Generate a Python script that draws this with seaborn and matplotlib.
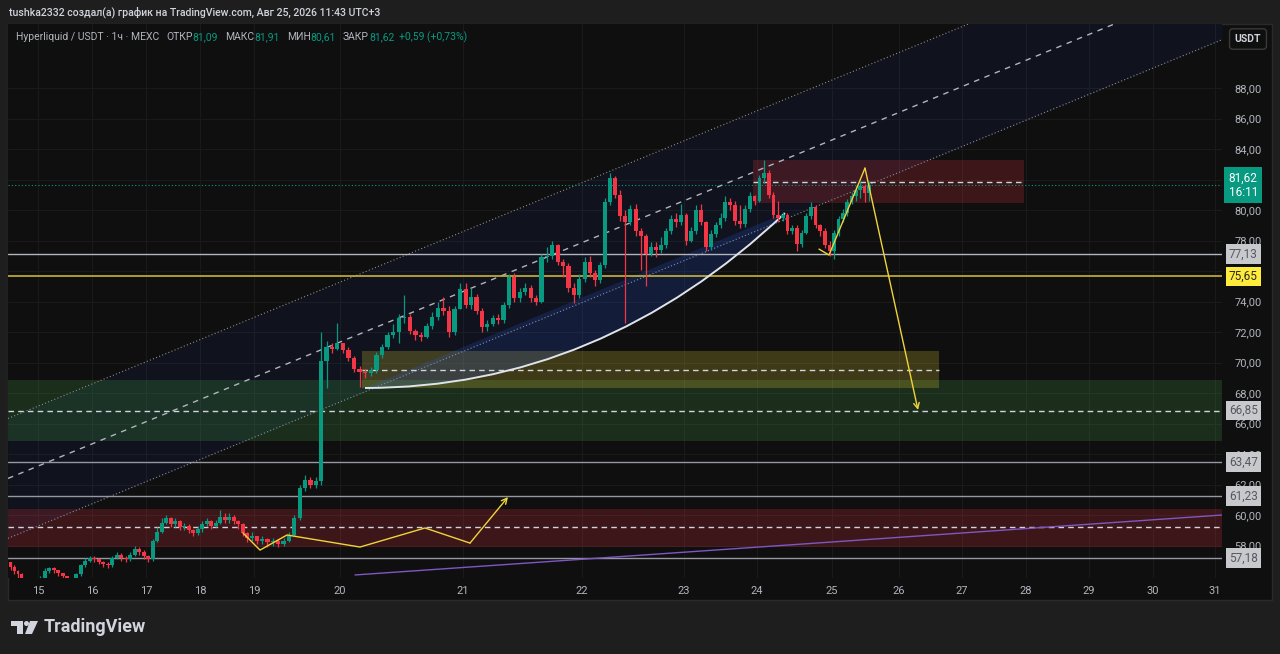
import numpy as np
import matplotlib
matplotlib.use('Agg')
import matplotlib.pyplot as plt
import matplotlib.patches as mpatches
import matplotlib.transforms as mtransforms
from matplotlib.path import Path
import seaborn as sns

# ---- axis data -------------------------------------------------------------
days = ['15', '16', '17', '18', '19', '20', '21', '22', '23', '24', '25', '26', '27', '28', '29', '30', '31']
day_pos = [0, 10.8, 21.6, 32.4, 43.2, 60.4, 85.0, 108.8, 129.2, 143.8, 158.8, 172.2, 184.8, 197.6, 210.2, 223.0, 235.4]
price_ticks = [58, 60, 62, 64, 66, 68, 70, 72, 74, 76, 78, 80, 82, 84, 86, 88]

# ---- candles, one list per day (open = previous close) ---------------------
first_open = 56.9
close_14 = [56.6, 56.3, 56.1, 55.9, 55.6, 55.4, 55.5, 55.7]
high_14 = [56.9, 56.7, 56.4, 56.2, 55.9, 55.7, 55.7, 55.9]
low_14 = [56.4, 56.1, 55.9, 55.6, 55.3, 55.2, 55.3, 55.4]

close_15 = [55.8, 56.3, 56.5, 56.4, 56.2, 56.0, 55.6, 55.5, 56.1, 56.7, 57.0, 57.2]
high_15 = [56.0, 56.5, 56.6, 56.6, 56.4, 56.2, 55.9, 55.7, 56.2, 56.8, 57.2, 57.3]
low_15 = [55.5, 55.8, 56.2, 56.2, 56.0, 55.8, 55.4, 55.3, 55.4, 56.0, 56.6, 56.9]

close_16 = [57.1, 56.9, 56.8, 56.7, 57.2, 57.4, 57.2, 57.1, 57.4, 57.8, 57.6, 57.3]
high_16 = [57.3, 57.2, 57.0, 56.9, 57.3, 57.6, 57.5, 57.3, 57.6, 58.0, 57.9, 57.7]
low_16 = [56.9, 56.8, 56.6, 56.5, 56.6, 57.1, 57.0, 56.9, 57.0, 57.3, 57.4, 57.1]

close_17 = [57.1, 58.3, 58.9, 59.5, 59.8, 59.4, 59.6, 59.2, 59.3, 59.0, 58.8, 59.1]
high_17 = [57.4, 58.4, 59.2, 59.8, 60.0, 59.9, 59.8, 59.7, 59.5, 59.4, 59.1, 59.3]
low_17 = [56.9, 57.0, 58.2, 58.8, 59.4, 59.2, 59.2, 59.0, 59.0, 58.8, 58.6, 58.7]

close_18 = [59.4, 59.6, 59.3, 59.5, 59.9, 59.7, 59.9, 59.6, 59.4, 58.8, 58.5, 58.6]
high_18 = [59.6, 59.8, 59.7, 59.7, 60.3, 60.1, 60.1, 60.0, 59.7, 59.5, 58.9, 58.9]
low_18 = [58.9, 59.3, 59.1, 59.2, 59.4, 59.5, 59.5, 59.4, 59.1, 58.6, 58.2, 58.3]

close_19 = [58.3, 58.4, 58.2, 58.3, 58.1, 58.3, 58.7, 59.8, 61.8, 62.3, 62.0, 62.2, 70.1, 71.0, 70.9, 71.3]
high_19 = [58.6, 58.6, 58.5, 58.5, 58.4, 58.5, 58.9, 60.0, 62.0, 62.6, 62.5, 62.5, 72.0, 71.4, 71.3, 72.6]
low_19 = [58.1, 58.1, 57.9, 58.0, 57.9, 58.0, 58.2, 58.6, 59.7, 61.6, 61.8, 61.8, 62.0, 68.3, 70.6, 70.8]

close_20 = [70.8, 70.3, 69.6, 69.4, 69.3, 69.5, 70.5, 71.0, 71.8, 72.0, 72.9, 73.0, 72.1, 71.8, 71.7, 72.4,
            73.0, 73.6, 73.4, 72.0, 73.5, 74.8]
high_20 = [71.3, 71.0, 70.4, 69.8, 69.6, 69.7, 70.7, 71.2, 72.0, 72.5, 73.2, 74.4, 73.2, 72.2, 72.0, 72.6,
           73.3, 74.0, 74.3, 73.7, 73.7, 75.2]
low_20 = [70.6, 70.1, 69.4, 68.4, 69.0, 69.1, 69.3, 70.3, 70.9, 71.6, 71.3, 72.6, 71.9, 71.5, 71.4, 71.6,
          72.2, 72.8, 73.1, 71.7, 71.8, 73.5]

close_21 = [73.8, 74.3, 73.4, 72.3, 72.5, 72.9, 72.8, 73.8, 75.6, 74.2, 74.6, 74.9, 74.2, 74.0, 76.9, 77.0,
            77.7, 76.6, 76.3, 74.9, 74.4, 75.5]
high_21 = [75.2, 74.9, 74.5, 73.6, 72.8, 73.1, 73.2, 74.0, 75.8, 75.9, 74.9, 75.2, 75.1, 74.4, 77.1, 77.6,
           78.0, 77.8, 76.8, 76.5, 75.2, 75.8]
low_21 = [73.6, 73.5, 73.2, 72.0, 72.1, 72.4, 72.5, 72.6, 73.6, 74.0, 74.0, 74.4, 74.0, 73.8, 73.9, 76.6,
          76.8, 76.4, 75.6, 74.6, 73.9, 74.2]

close_22 = [76.6, 75.9, 75.4, 76.4, 80.5, 82.1, 81.0, 79.6, 79.2, 80.1, 78.6, 78.3, 77.1, 77.6, 77.4, 77.7,
            78.6, 79.4, 79.2, 79.7]
high_22 = [76.9, 77.0, 76.1, 76.6, 80.8, 82.4, 82.2, 81.3, 80.0, 80.3, 80.4, 78.8, 78.4, 77.9, 77.9, 78.2,
           78.8, 79.7, 79.8, 80.4]
low_22 = [75.3, 75.6, 75.0, 75.2, 76.2, 80.3, 80.8, 79.3, 72.6, 79.0, 78.3, 76.1, 75.0, 77.0, 76.9, 77.2,
          77.5, 78.4, 78.9, 79.0]

close_23 = [78.0, 78.6, 80.0, 79.2, 77.6, 78.4, 79.0, 79.5, 80.5, 80.3, 79.3, 79.1, 80.1, 80.9, 80.6]
high_23 = [79.8, 78.9, 80.3, 80.4, 79.3, 78.7, 79.2, 79.8, 80.9, 80.8, 80.6, 80.3, 80.3, 81.2, 81.0]
low_23 = [77.7, 77.9, 78.4, 79.0, 77.3, 77.4, 78.2, 78.8, 79.3, 80.0, 79.0, 78.8, 78.9, 79.9, 80.3]

close_24 = [82.1, 82.4, 81.0, 79.7, 79.5, 79.7, 78.6, 78.8, 77.8, 78.5, 79.6, 80.2, 79.0, 78.6, 77.7, 77.3]
high_24 = [82.3, 83.3, 82.6, 81.2, 80.6, 79.9, 79.8, 79.0, 79.0, 78.7, 79.8, 80.5, 80.3, 79.1, 78.8, 78.0]
low_24 = [80.5, 81.8, 80.8, 79.5, 79.2, 79.3, 78.4, 78.4, 77.3, 77.6, 78.4, 79.4, 78.8, 78.3, 77.5, 77.0]

close_25 = [78.5, 79.4, 79.8, 80.5, 80.9, 81.3, 81.6, 81.09, 81.62]
high_25 = [78.7, 79.6, 80.1, 80.7, 81.2, 81.6, 81.9, 81.7, 81.91]
low_25 = [76.8, 78.3, 79.2, 79.6, 80.4, 80.6, 80.8, 80.5, 80.61]

# ---- drawings ---------------------------------------------------------------
channel_x = [-6, 236.8]
channel_mid = [62.4, 95.1]
channel_half = 3.93

green_zone = [64.85, 66.85, 68.88]      # bottom, mid, top
red_zone_low = [57.9, 59.21, 60.39]
red_zone_high = [80.46, 81.84, 83.28]
red_zone_high_x = [143.0, 197.2]
yellow_zone = [68.33, 69.54, 70.75]
yellow_zone_x = [64.8, 180.2]

levels = [77.13, 75.65, 66.85, 63.47, 61.23, 57.18]
level_text = ['77,13', '75,65', '66,85', '63,47', '61,23', '57,18']

arc_x = [65.4, 112.4, 149.4]
arc_y = [68.33, 68.33, 79.80]

path_low_x = [41.0, 44.4, 49.8, 64.4, 77.4, 86.4, 94.0]
path_low_y = [58.82, 57.70, 58.69, 57.90, 59.15, 58.16, 61.18]
path_high_x = [156.2, 158.2, 165.4, 176.0]
path_high_y = [77.44, 77.05, 82.75, 66.89]

purple_x = [63.4, 236.8]
purple_y = [56.07, 60.0]

last_price = 81.62

GREEN = '#089981'
RED = '#f23645'
W, H = 1280, 654

sns.set_theme(style='dark', rc={'axes.facecolor': '#0f0f0f', 'figure.facecolor': '#1e1e1e'})
plt.rcParams['font.family'] = ['Roboto', 'DejaVu Sans']

fig = plt.figure(figsize=(W / 100, H / 100), dpi=100)
fig.patches.append(mpatches.Rectangle((8 / W, 1 - 600 / H), 1264 / W, 576 / H, transform=fig.transFigure,
                                      facecolor='#0f0f0f', edgecolor='#2a2a2a', lw=1, zorder=-10))
ax = fig.add_axes([8 / W, 1 - 578 / H, 1214 / W, 554 / H])
ax.set_zorder(1)
ax.set_facecolor('#0f0f0f')
ax.set_xlim(-6, 236.8)
ax.set_ylim(55.87, 92.2)
for s in ax.spines.values():
    s.set_visible(False)

ax.set_xticks(day_pos)
ax.set_xticklabels(days)
ax.set_yticks(price_ticks)
ax.set_yticklabels([f'{p:.2f}'.replace('.', ',') for p in price_ticks])
ax.yaxis.tick_right()
ax.tick_params(axis='x', colors='#b2b5be', labelsize=8, length=0, pad=6)
ax.tick_params(axis='y', colors='#b2b5be', labelsize=8, length=0, pad=9)
ax.grid(True, color='#1a1a1a', lw=0.8)

# channel
cx = np.array(channel_x)
cm = np.array(channel_mid)
ax.fill_between(cx, cm - channel_half, cm + channel_half, color='#2962ff', alpha=0.06, lw=0, zorder=1)
ax.plot(cx, cm, color='#b2b5be', lw=1, ls=(0, (4, 4)), zorder=3)
ax.plot(cx, cm + channel_half, color='#8a8d96', lw=0.8, ls=(0, (1, 2)), zorder=3)
ax.plot(cx, cm - channel_half, color='#8a8d96', lw=0.8, ls=(0, (1, 2)), zorder=3)

# zones
def zone(x0, x1, lo, mid, hi, color):
    ax.add_patch(mpatches.Rectangle((x0, lo), x1 - x0, hi - lo, facecolor=color, alpha=0.2, lw=0, zorder=1))
    ax.plot([x0, x1], [mid, mid], color='#d1d4dc', lw=1, ls=(0, (4, 3)), zorder=3)

zone(-6, 236.8, green_zone[0], green_zone[1], green_zone[2], '#4caf50')
zone(-6, 236.8, red_zone_low[0], red_zone_low[1], red_zone_low[2], RED)
zone(red_zone_high_x[0], red_zone_high_x[1], red_zone_high[0], red_zone_high[1], red_zone_high[2], RED)
zone(yellow_zone_x[0], yellow_zone_x[1], yellow_zone[0], yellow_zone[1], yellow_zone[2], '#ffeb3b')

# arc with fill to its chord
verts = list(zip(arc_x, arc_y))
fill_path = Path(verts + [verts[0], verts[0]],
                 [Path.MOVETO, Path.CURVE3, Path.CURVE3, Path.LINETO, Path.CLOSEPOLY])
ax.add_patch(mpatches.PathPatch(fill_path, facecolor='#2962ff', alpha=0.18, lw=0, zorder=2))
arc_path = Path(verts, [Path.MOVETO, Path.CURVE3, Path.CURVE3])
ax.add_patch(mpatches.PathPatch(arc_path, facecolor='none', edgecolor='#e0e3eb', lw=1.4, zorder=4))

# horizontal levels
level_colors = ['#b2b5be', '#c9b43a', None, '#9598a1', '#9598a1', '#9598a1']
for lv, col in zip(levels, level_colors):
    if col:
        ax.axhline(lv, color=col, lw=1.2 if col == '#c9b43a' else 1, zorder=3)
ax.axhline(last_price, color=GREEN, lw=0.8, ls=(0, (1, 2)), zorder=3)

# candles
segments = [(-5.8, 0, close_14, high_14, low_14)]
raw = [(close_15, high_15, low_15), (close_16, high_16, low_16), (close_17, high_17, low_17),
       (close_18, high_18, low_18), (close_19, high_19, low_19), (close_20, high_20, low_20),
       (close_21, high_21, low_21), (close_22, high_22, low_22), (close_23, high_23, low_23),
       (close_24, high_24, low_24)]
for k, (c, h, l) in enumerate(raw):
    segments.append((day_pos[k], day_pos[k + 1], c, h, l))
segments.append((day_pos[10], 166.6, close_25, high_25, low_25))

prev = first_open
for x0, x1, c, h, l in segments:
    c = np.array(c)
    o = np.concatenate([[prev], c[:-1]])
    prev = c[-1]
    step = (x1 - x0) / len(c)
    xs = x0 + (np.arange(len(c)) + 0.5) * step
    cols = np.where(c >= o, GREEN, RED)
    ax.vlines(xs, l, h, colors=cols, lw=0.9, zorder=5)
    body = np.maximum(np.abs(c - o), 0.06)
    ax.bar(xs, body, bottom=np.minimum(o, c), width=step * 0.78, color=cols, lw=0, zorder=6)

# projection paths
YEL = '#f0d43a'
sns.lineplot(x=path_low_x[:-1], y=path_low_y[:-1], sort=False, estimator=None, color=YEL, lw=1, ax=ax, zorder=7)
ax.annotate('', xy=(path_low_x[-1], path_low_y[-1]), xytext=(path_low_x[-2], path_low_y[-2]),
            arrowprops=dict(arrowstyle='->', color=YEL, lw=1, shrinkA=0, shrinkB=0, mutation_scale=10), zorder=7)
sns.lineplot(x=path_high_x[:-1], y=path_high_y[:-1], sort=False, estimator=None, color=YEL, lw=1, ax=ax, zorder=7)
ax.annotate('', xy=(path_high_x[-1], path_high_y[-1]), xytext=(path_high_x[-2], path_high_y[-2]),
            arrowprops=dict(arrowstyle='->', color=YEL, lw=1, shrinkA=0, shrinkB=0, mutation_scale=10), zorder=7)
sns.lineplot(x=purple_x, y=purple_y, color='#7e57c2', lw=1, ax=ax, zorder=3)
ax.set_xlabel('')
ax.set_ylabel('')

# price labels on the right scale
tr = mtransforms.blended_transform_factory(ax.transAxes, ax.transData)
for lv, txt in zip(levels, level_text):
    yellow = txt == '75,65'
    ax.text(1.0175, lv, txt, transform=tr, ha='center', va='center', fontsize=8.5,
            color='#2a2a2a' if yellow else '#55585f', clip_on=False, zorder=10,
            bbox=dict(boxstyle='square,pad=0.28', facecolor='#ffeb3b' if yellow else '#c8c9cc', edgecolor='none'))
ax.text(1.0175, last_price, '81,62\n16:11', transform=tr, ha='center', va='center', fontsize=8.5,
        color='white', linespacing=1.2, clip_on=False, zorder=10,
        bbox=dict(boxstyle='square,pad=0.35', facecolor=GREEN, edgecolor='none'))

# USDT button
fig.text(1248 / W, 1 - 39 / H, 'USDT', ha='center', va='center', fontsize=7.5, weight='bold', color='#d1d4dc',
         bbox=dict(boxstyle='round,pad=0.5,rounding_size=0.3', facecolor='#0f0f0f', edgecolor='#3a3a3a'))

# header texts
renderer = fig.canvas.get_renderer()

def pieces(x_px, y_px, items, size, weight='normal'):
    x = x_px
    for txt, col, gap in items:
        t = fig.text(x / W, 1 - y_px / H, txt, color=col, fontsize=size, weight=weight, ha='left', va='center',
                     zorder=5)
        x += t.get_window_extent(renderer).width + gap

pieces(9, 12, [('tushka2332 создал(а) график на TradingView.com, Авг 25, 2026 11:43 UTC+3', '#d1d4dc', 0)],
       7.6, weight='medium')
GR = '#b2b5be'
pieces(16, 37, [('Hyperliquid / USDT · 1ч · MEXC', GR, 7), ('ОТКР', GR, 0), ('81,09', GREEN, 7),
                ('МАКС', GR, 0), ('81,91', GREEN, 7), ('МИН', GR, 0), ('80,61', GREEN, 7),
                ('ЗАКР', GR, 0), ('81,62', GREEN, 5), ('+0,59 (+0,73%)', GREEN, 0)], 7.5)

# TradingView logo
def fig_poly(pts, **kw):
    fig.patches.append(mpatches.Polygon([(x / W, 1 - y / H) for x, y in pts], closed=True,
                                        transform=fig.transFigure, **kw))

LOGO = '#d1d4dc'
fig_poly([(11, 621), (23, 621), (23, 626), (11, 626)], facecolor=LOGO, lw=0)
fig_poly([(17, 621), (23, 621), (23, 634), (17, 634)], facecolor=LOGO, lw=0)
fig.patches.append(mpatches.Ellipse((26.5 / W, 1 - 623.5 / H), 5 / W, 5 / H, transform=fig.transFigure,
                                    facecolor=LOGO, lw=0))
fig_poly([(30, 621), (38, 621), (32, 634), (25, 634)], facecolor=LOGO, lw=0)
fig.text(44 / W, 1 - 627 / H, 'TradingView', ha='left', va='center', fontsize=13, weight='bold', color=LOGO)

fig.savefig('out.png', dpi=100, facecolor=fig.get_facecolor())
